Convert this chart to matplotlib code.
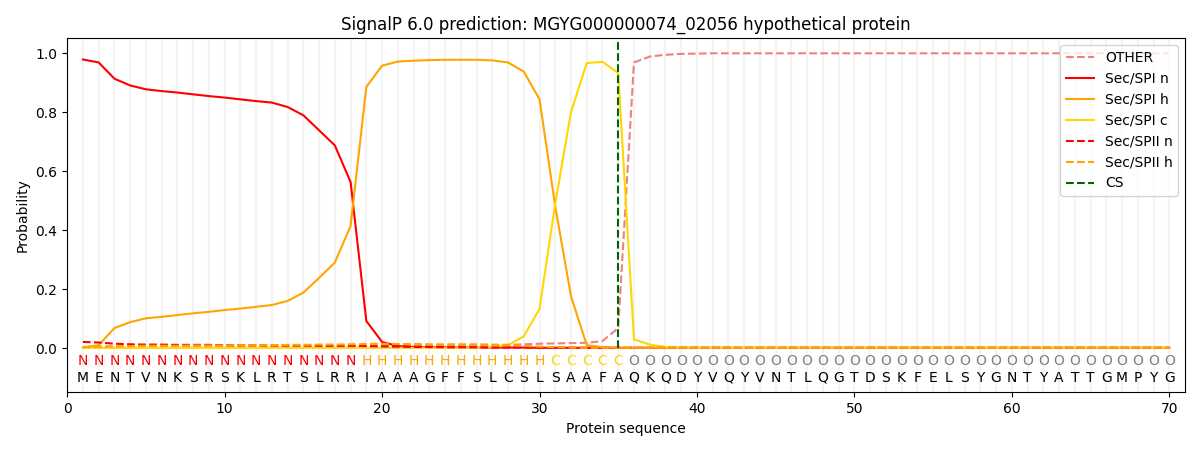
import matplotlib
matplotlib.use("Agg")
import matplotlib.pyplot as plt

# 序列与区域标签
sequence = "MENTVNKSRSKLRTSLRRIAAAGFFSLCSLSAAFAQKQDYVQYVNTLQGTDSKFELSYGNTYATTGMPYG"
regions = "NNNNNNNNNNNNNNNNNNHHHHHHHHHHHHCCCCCOOOOOOOOOOOOOOOOOOOOOOOOOOOOOOOOOOO"
cs_pos = 35

other = [0.004, 0.005, 0.005, 0.005, 0.005, 0.005, 0.005, 0.005, 0.005, 0.006,
         0.006, 0.006, 0.006, 0.006, 0.006, 0.007, 0.007, 0.007, 0.007, 0.008,
         0.008, 0.008, 0.008, 0.009, 0.009, 0.009, 0.010, 0.011, 0.013, 0.015,
         0.016, 0.017, 0.018, 0.024, 0.068, 0.968, 0.988, 0.994, 0.997, 0.998,
         0.999, 0.999, 0.999, 0.999, 0.999, 0.999, 0.999, 0.999, 0.999, 0.999,
         0.999, 0.999, 0.999, 0.999, 0.999, 0.999, 0.999, 0.999, 0.999, 0.999,
         0.999, 0.999, 0.999, 0.999, 0.999, 0.999, 0.999, 0.999, 0.999, 0.999]
spi_n = [0.978, 0.968, 0.913, 0.890, 0.877, 0.871, 0.866, 0.860, 0.854, 0.849,
         0.843, 0.837, 0.832, 0.817, 0.789, 0.738, 0.687, 0.563, 0.092, 0.021,
         0.007, 0.004, 0.003, 0.003, 0.002, 0.002, 0.002, 0.002, 0.002, 0.001,
         0.001, 0.001, 0.001, 0.001, 0.001, 0.001, 0.001, 0.001, 0.001, 0.001,
         0.001, 0.001, 0.001, 0.001, 0.001, 0.001, 0.001, 0.001, 0.001, 0.001,
         0.001, 0.001, 0.001, 0.001, 0.001, 0.001, 0.001, 0.001, 0.001, 0.001,
         0.001, 0.001, 0.001, 0.001, 0.001, 0.001, 0.001, 0.001, 0.001, 0.001]
spi_h = [0.002, 0.010, 0.068, 0.088, 0.101, 0.106, 0.112, 0.118, 0.123, 0.129,
         0.134, 0.140, 0.146, 0.160, 0.188, 0.238, 0.290, 0.414, 0.885, 0.957,
         0.971, 0.974, 0.976, 0.977, 0.977, 0.977, 0.975, 0.968, 0.937, 0.843,
         0.480, 0.176, 0.010, 0.003, 0.001, 0.001, 0.001, 0.001, 0.001, 0.001,
         0.001, 0.001, 0.001, 0.001, 0.001, 0.001, 0.001, 0.001, 0.001, 0.001,
         0.001, 0.001, 0.001, 0.001, 0.001, 0.001, 0.001, 0.001, 0.001, 0.001,
         0.001, 0.001, 0.001, 0.001, 0.001, 0.001, 0.001, 0.001, 0.001, 0.001]
spi_c = [0.001, 0.001, 0.001, 0.001, 0.001, 0.001, 0.001, 0.001, 0.001, 0.001,
         0.001, 0.001, 0.001, 0.001, 0.001, 0.001, 0.001, 0.001, 0.001, 0.001,
         0.001, 0.001, 0.001, 0.001, 0.001, 0.002, 0.004, 0.010, 0.040, 0.133,
         0.490, 0.800, 0.966, 0.970, 0.932, 0.030, 0.012, 0.004, 0.002, 0.001,
         0.001, 0.001, 0.001, 0.001, 0.001, 0.001, 0.001, 0.001, 0.001, 0.001,
         0.001, 0.001, 0.001, 0.001, 0.001, 0.001, 0.001, 0.001, 0.001, 0.001,
         0.001, 0.001, 0.001, 0.001, 0.001, 0.001, 0.001, 0.001, 0.001, 0.001]
spii_n = [0.021, 0.019, 0.015, 0.013, 0.012, 0.012, 0.011, 0.011, 0.011, 0.010,
          0.010, 0.010, 0.009, 0.009, 0.009, 0.008, 0.008, 0.008, 0.007, 0.006,
          0.005, 0.004, 0.004, 0.003, 0.003, 0.003, 0.002, 0.002, 0.002, 0.002,
          0.002, 0.002, 0.001, 0.001, 0.001, 0.001, 0.001, 0.001, 0.001, 0.001,
          0.001, 0.001, 0.001, 0.001, 0.001, 0.001, 0.001, 0.001, 0.001, 0.001,
          0.001, 0.001, 0.001, 0.001, 0.001, 0.001, 0.001, 0.001, 0.001, 0.001,
          0.001, 0.001, 0.001, 0.001, 0.001, 0.001, 0.001, 0.001, 0.001, 0.001]
spii_h = [0.003, 0.005, 0.006, 0.007, 0.008, 0.008, 0.008, 0.009, 0.009, 0.009,
          0.010, 0.010, 0.010, 0.011, 0.011, 0.012, 0.012, 0.013, 0.014, 0.015,
          0.014, 0.014, 0.013, 0.013, 0.013, 0.013, 0.012, 0.011, 0.008, 0.005,
          0.003, 0.002, 0.001, 0.001, 0.001, 0.001, 0.001, 0.001, 0.001, 0.001,
          0.001, 0.001, 0.001, 0.001, 0.001, 0.001, 0.001, 0.001, 0.001, 0.001,
          0.001, 0.001, 0.001, 0.001, 0.001, 0.001, 0.001, 0.001, 0.001, 0.001,
          0.001, 0.001, 0.001, 0.001, 0.001, 0.001, 0.001, 0.001, 0.001, 0.001]

region_colors = {'N': 'red', 'H': 'orange', 'C': 'gold', 'O': 'gray'}


def main():
    pos = list(range(1, len(sequence) + 1))

    fig, ax = plt.subplots(figsize=(12, 4.5), dpi=100)
    fig.subplots_adjust(left=0.056, right=0.9875, top=0.915, bottom=0.128)

    # 每个残基的浅色竖线
    for p in pos:
        ax.axvline(p, color='#f3f3f3', linewidth=1.5, zorder=0)

    ax.plot(pos, other, color='lightcoral', linestyle='--', label='OTHER')
    ax.plot(pos, spi_n, color='red', label='Sec/SPI n')
    ax.plot(pos, spi_h, color='orange', label='Sec/SPI h')
    ax.plot(pos, spi_c, color='gold', label='Sec/SPI c')
    ax.plot(pos, spii_n, color='red', linestyle='--', label='Sec/SPII n')
    ax.plot(pos, spii_h, color='orange', linestyle='--', label='Sec/SPII h')
    ax.vlines(cs_pos, 0, 1.04, color='darkgreen', linestyle='--', label='CS')

    for p, aa, reg in zip(pos, sequence, regions):
        ax.text(p, -0.045, reg, color=region_colors[reg], ha='center', va='center', fontsize=10)
        ax.text(p, -0.1, aa, color='black', ha='center', va='center', fontsize=10)

    ax.set_xlim(0, 71)
    ax.set_ylim(-0.15, 1.05)
    ax.set_xlabel('Protein sequence')
    ax.set_ylabel('Probability')
    ax.set_title('SignalP 6.0 prediction: MGYG000000074_02056 hypothetical protein')
    ax.legend(loc='upper right')

    plt.savefig('out.png')


if __name__ == "__main__":
    main()
